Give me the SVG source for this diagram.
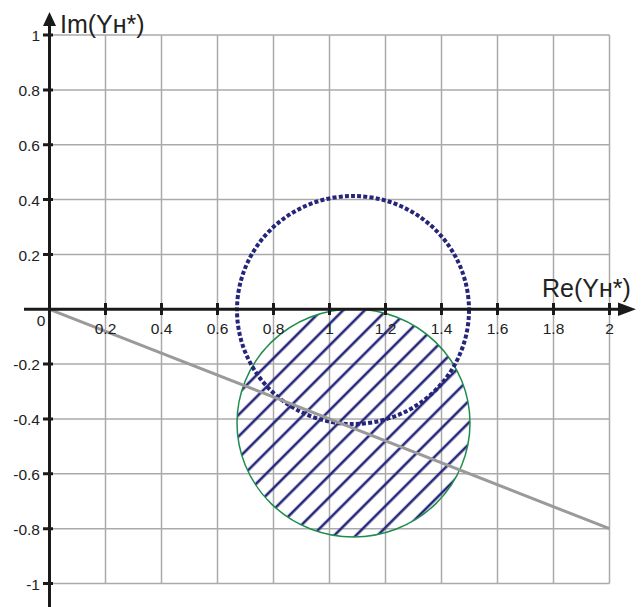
<svg xmlns="http://www.w3.org/2000/svg" width="641" height="607" viewBox="0 0 641 607">
<style>
.grid{stroke:#aaaaaa;stroke-width:1.5;fill:none}
.axis{stroke:#1a1a1a;stroke-width:3;fill:none}
.tick{stroke:#1a1a1a;stroke-width:3}
.lbl{font-family:"Liberation Sans",Arial,sans-serif;font-size:15.5px;fill:#222}
.ttl{font-family:"Liberation Sans",Arial,sans-serif;font-size:25px;fill:#222}
</style>
<defs>
<pattern id="hatch" patternUnits="userSpaceOnUse" width="15.3" height="15.3" patternTransform="rotate(45)">
<line x1="3" y1="0" x2="3" y2="15.3" stroke="#25257a" stroke-width="2.6"/>
</pattern>
<clipPath id="gclip"><ellipse cx="353.5" cy="423" rx="116.5" ry="114"/></clipPath>
</defs>
<g id="grid">
<path class="grid" d="M105.5 35V583.5M161.5 35V583.5M217.5 35V583.5M273.5 35V583.5M329.5 35V583.5M385.5 35V583.5M441.5 35V583.5M497.5 35V583.5M553.5 35V583.5M609.5 35V583.5"/>
<path class="grid" d="M49.5 35.1H609.5M49.5 89.9H609.5M49.5 144.8H609.5M49.5 199.6H609.5M49.5 254.5H609.5M49.5 364.1H609.5M49.5 419H609.5M49.5 473.8H609.5M49.5 528.7H609.5M49.5 583.5H609.5"/>
</g>
<g id="region">
<rect x="230" y="300" width="250" height="245" fill="url(#hatch)" clip-path="url(#gclip)"/>
<ellipse cx="353.5" cy="423" rx="116.5" ry="114" fill="none" stroke="#1e8c4e" stroke-width="1.5"/>
</g>
<g id="circle">
<ellipse cx="353" cy="310" rx="116" ry="114" fill="none" stroke="#25257a" stroke-width="4" stroke-dasharray="4 2.2"/>
</g>
<g id="line">
<line x1="49.5" y1="309.3" x2="609.5" y2="528.7" stroke="#9a9a9a" stroke-width="3"/>
</g>
<g id="axes">
<line class="axis" x1="49.5" y1="24" x2="49.5" y2="607"/>
<polygon points="49.5,12 43,26 56,26" fill="#1a1a1a"/>
<line class="axis" x1="24" y1="309.3" x2="620" y2="309.3"/>
<polygon points="636,309.3 618,302.5 618,316" fill="#1a1a1a"/>
<path class="tick" d="M43 35.1H53M43 89.9H53M43 144.8H53M43 199.6H53M43 254.5H53M43 364.1H53M43 419H53M43 473.8H53M43 528.7H53M43 583.5H53"/>
<path class="tick" d="M105.5 303V315M161.5 303V315M217.5 303V315M273.5 303V315M329.5 303V315M385.5 303V315M441.5 303V315M497.5 303V315M553.5 303V315M609.5 303V315"/>
</g>
<g id="labels">
<g class="lbl" text-anchor="end">
<text x="40" y="40.5">1</text>
<text x="40" y="95.5">0.8</text>
<text x="40" y="150.5">0.6</text>
<text x="40" y="205.5">0.4</text>
<text x="40" y="260.5">0.2</text>
<text x="40" y="369.5">-0.2</text>
<text x="40" y="424.5">-0.4</text>
<text x="40" y="479.5">-0.6</text>
<text x="40" y="534.5">-0.8</text>
<text x="40" y="589.5">-1</text>
</g>
<g class="lbl" text-anchor="middle">
<text x="41" y="325.5">0</text>
<text x="105.5" y="333.5">0.2</text>
<text x="161.5" y="333.5">0.4</text>
<text x="217.5" y="333.5">0.6</text>
<text x="273.5" y="333.5">0.8</text>
<text x="329.5" y="333.5">1</text>
<text x="385.5" y="333.5">1.2</text>
<text x="441.5" y="333.5">1.4</text>
<text x="497.5" y="333.5">1.6</text>
<text x="553.5" y="333.5">1.8</text>
<text x="609.5" y="333.5">2</text>
</g>
<text class="ttl" x="60" y="33">Im(Yн*)</text>
<text class="ttl" x="542" y="297">Re(Yн*)</text>
</g>
</svg>
